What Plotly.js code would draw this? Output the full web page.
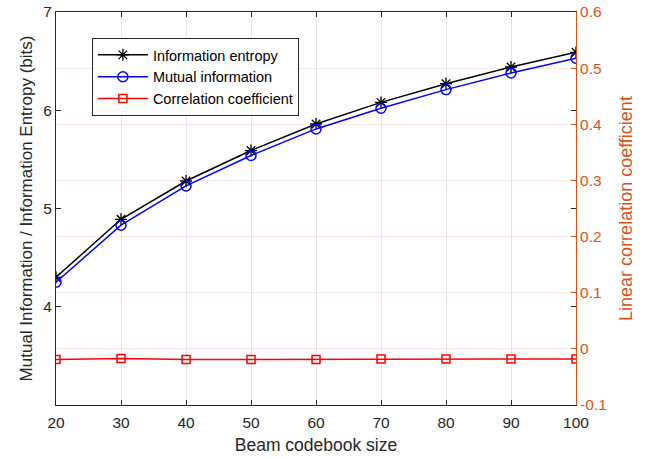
<!DOCTYPE html>
<html><head><meta charset="utf-8">
<script src="https://cdn.plot.ly/plotly-3.0.1.min.js"></script>
<style>html,body{margin:0;padding:0;background:#fff}#chart{width:654px;height:459px}</style>
</head><body><div id="chart"></div>
<script>
const codebookSize = [20, 30, 40, 50, 60, 70, 80, 90, 100];
const infoEntropy = [4.30, 4.89, 5.28, 5.59, 5.86, 6.08, 6.27, 6.44, 6.59];
const mutualInfo = [4.25, 4.83, 5.23, 5.54, 5.81, 6.02, 6.21, 6.38, 6.53];
const corrCoef = [-0.019, -0.017, -0.019, -0.019, -0.019, -0.018, -0.018, -0.018, -0.018];
const leftTicks = [4, 5, 6, 7];
const rightTicks = [-0.1, 0, 0.1, 0.2, 0.3, 0.4, 0.5, 0.6];
const rightTickText = ['-0.1', '0', '0.1', '0.2', '0.3', '0.4', '0.5', '0.6'];
const orange = '#D95319';
const font = 'Liberation Sans, Arial, sans-serif';

const traces = [
  {x: codebookSize, y: infoEntropy, name: 'Information entropy', mode: 'lines+markers',
   line: {color: '#000', width: 1.5}, marker: {symbol: 'asterisk-open', size: 10, color: '#000', line: {color: '#000', width: 1.3}}},
  {x: codebookSize, y: mutualInfo, name: 'Mutual information', mode: 'lines+markers',
   line: {color: '#0000FF', width: 1.5}, marker: {symbol: 'circle-open', size: 10, color: '#0000FF', line: {color: '#0000FF', width: 1.5}}},
  {x: codebookSize, y: corrCoef, name: 'Correlation coefficient', mode: 'lines+markers', yaxis: 'y2',
   line: {color: '#FF0000', width: 1.5}, marker: {symbol: 'square-open', size: 8, color: '#FF0000', line: {color: '#FF0000', width: 1.5}}}
];

const layout = {
  width: 654, height: 459,
  margin: {l: 56, r: 78, t: 12, b: 54},
  paper_bgcolor: '#fff', plot_bgcolor: '#fff',
  font: {family: font, size: 15.5, color: '#262626'},
  showlegend: true,
  legend: {x: 0.069, y: 0.934, xanchor: 'left', yanchor: 'top', bgcolor: '#fff', itemwidth: 50,
           bordercolor: '#262626', borderwidth: 1, font: {size: 14.5, color: '#000'}, tracegroupgap: 0},
  xaxis: {range: [20, 100], tickvals: codebookSize, ticks: 'inside', ticklen: 5, tickcolor: '#262626',
          showline: true, linecolor: '#262626', linewidth: 1, mirror: 'ticks', ticklabelstandoff: 3,
          showgrid: true, gridcolor: 'rgba(0,0,0,0.1)', zeroline: false,
          title: {text: 'Beam codebook size', font: {size: 17.5, color: '#262626'}, standoff: 9}},
  yaxis: {range: [3, 7], tickvals: leftTicks, ticks: 'inside', ticklen: 5, tickcolor: '#262626',
          showline: true, linecolor: '#262626', linewidth: 1, mirror: 'ticks',
          showgrid: false, zeroline: false,
          title: {text: 'Mutual Information / Information Entropy (bits)', font: {size: 17, color: '#262626'}, standoff: 6}},
  yaxis2: {range: [-0.1, 0.6], overlaying: 'y', side: 'right', tickvals: rightTicks, ticktext: rightTickText,
           ticks: 'inside', ticklen: 5, tickcolor: orange, tickfont: {color: orange, size: 15.5},
           showline: true, linecolor: orange, linewidth: 1,
           showgrid: true, gridcolor: 'rgba(217,83,25,0.13)', zeroline: false,
           title: {text: 'Linear correlation coefficient', font: {size: 18, color: orange}, standoff: 13}}
};

Plotly.newPlot('chart', traces, layout, {displayModeBar: false, staticPlot: true});
</script></body></html>
